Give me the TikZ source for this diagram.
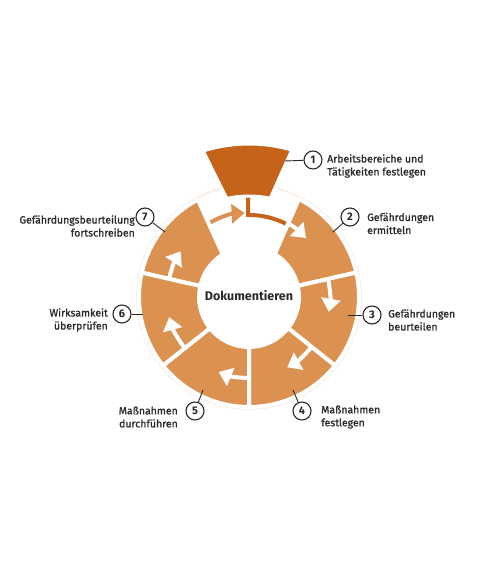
\documentclass[tikz,border=0pt]{standalone}
\usepackage{fontspec}
\setmainfont{Fira Sans}
\newfontfamily\semib{Fira Sans}[FakeBold=1.2]
\usetikzlibrary{arrows.meta}
\definecolor{ring}{HTML}{DB9150}
\definecolor{segone}{HTML}{C5631A}
\definecolor{txt}{HTML}{2A2A2A}
\begin{document}
\begin{tikzpicture}[x=1pt,y=1pt,
  segment/.style={fill=ring, draw=white, line width=4pt, line join=round},
  topseg/.style={fill=segone, draw=white, line width=3pt, line join=round},
  flow/.style={line width=4pt, -{Triangle[width=19pt,length=13pt]}},
  num/.style={circle, draw=txt, line width=1.1pt, minimum size=18pt, inner sep=0pt,
    font=\fontsize{11}{12}\selectfont\bfseries, text=txt, fill=white},
  lbl/.style={font=\semib\fontsize{10.5}{13}\selectfont, text=txt, inner sep=0pt},
  leader/.style={draw=txt, line width=0.9pt}]
\useasboundingbox (0,0) rectangle (487,572);
\coordinate (C) at (249,275);
\begin{scope}[shift={(249,275)}]
  % faint halo
  \draw[color=ring!15, line width=2pt] (0,0) circle[radius=112];
  % arrows lying under the ring
  \draw[flow, draw=ring, fill=ring] (-236:84) arc[start angle=-236, end angle=-267, radius=84];
  \draw[line width=4pt, segone] (-1,102) -- (-1,82) arc[start angle=90.7, end angle=46, radius=82];
  % segment 1
  \path[topseg] (107.4:153) arc[start angle=107.4, end angle=73.8, radius=153]
     -- (77.9:101) arc[start angle=77.9, end angle=102.7, radius=101] -- cycle;
  % ring segments 2..7
  \path[segment] (63:110) arc[start angle=63, end angle=12.86, radius=110]
     -- (12.86:50) arc[start angle=12.86, end angle=59, radius=50] -- cycle;
  \path[segment] (12.86:110) arc[start angle=12.86, end angle=-38.57, radius=110]
     -- (-38.57:50) arc[start angle=-38.57, end angle=12.86, radius=50] -- cycle;
  \path[segment] (-38.57:110) arc[start angle=-38.57, end angle=-90, radius=110]
     -- (-90:50) arc[start angle=-90, end angle=-38.57, radius=50] -- cycle;
  \path[segment] (-90:110) arc[start angle=-90, end angle=-141.43, radius=110]
     -- (-141.43:50) arc[start angle=-141.43, end angle=-90, radius=50] -- cycle;
  \path[segment] (-141.43:110) arc[start angle=-141.43, end angle=-192.86, radius=110]
     -- (-192.86:50) arc[start angle=-192.86, end angle=-141.43, radius=50] -- cycle;
  \path[segment] (-192.86:110) arc[start angle=-192.86, end angle=-242.3, radius=110]
     -- (-238.3:50) arc[start angle=-238.3, end angle=-192.86, radius=50] -- cycle;
  % white part of arrow from segment 1 (inside segment 2)
  \begin{scope}
    \clip (63:110) arc[start angle=63, end angle=12.86, radius=110]
       -- (12.86:50) arc[start angle=12.86, end angle=59, radius=50] -- cycle;
    \draw[flow, white] (-1,102) -- (-1,82) arc[start angle=90.7, end angle=46, radius=82];
  \end{scope}
  % white flow arrows
  \draw[flow, white] (12.86:81) arc[start angle=12.86, end angle=-10.5, radius=81];
  \draw[flow, white] (-38.57:80) arc[start angle=-38.57, end angle=-61.5, radius=80];
  \draw[flow, white] (-90:81) arc[start angle=-90, end angle=-112, radius=81];
  \draw[flow, white] (-141.43:82) arc[start angle=-141.43, end angle=-165, radius=85];
  \draw[flow, white] (-192.86:82) arc[start angle=-192.86, end angle=-213, radius=85];
\end{scope}
\node[font=\fontsize{12.5}{14}\selectfont\bfseries, text=txt] (doc) at (249,276) {Dokumentieren};
% number circles
\node[num] (n1) at (313,412) {1};
\node[num] (n2) at (350,355) {2};
\node[num] (n3) at (372,257) {3};
\node[num] (n4) at (302,161) {4};
\node[num] (n5) at (195,161) {5};
\node[num] (n6) at (122,258) {6};
\node[num] (n7) at (145,355) {7};
% leader ends
\coordinate (p1) at (285,411);
\coordinate (p2) at (333,340);
\coordinate (p3) at (348,257);
\coordinate (p4) at (293,182);
\coordinate (p5) at (203,182);
\coordinate (p6) at (143,258);
\coordinate (p7) at (165,340);
\foreach \i in {1,...,7}{\draw[leader] (p\i) -- (n\i);}
% labels
\node[lbl, anchor=west, align=left] (t1) at (327,406) {Arbeitsbereiche und\\Tätigkeiten festlegen};
\node[lbl, anchor=west, align=left] (t2) at (367,348.5) {Gefährdungen\\ermitteln};
\node[lbl, anchor=west, align=left] (t3) at (388,252) {Gefährdungen\\beurteilen};
\node[lbl, anchor=west, align=left] (t4) at (321,155) {Maßnahmen\\festlegen};
\node[lbl, anchor=east, align=right] (t5) at (178,155) {Maßnahmen\\durchführen};
\node[lbl, anchor=east, align=right] (t6) at (108,252) {Wirksamkeit\\überprüfen};
\node[lbl, anchor=east, align=right] (t7) at (135,346) {Gefährdungsbeurteilung\\fortschreiben};
\end{tikzpicture}
\end{document}
